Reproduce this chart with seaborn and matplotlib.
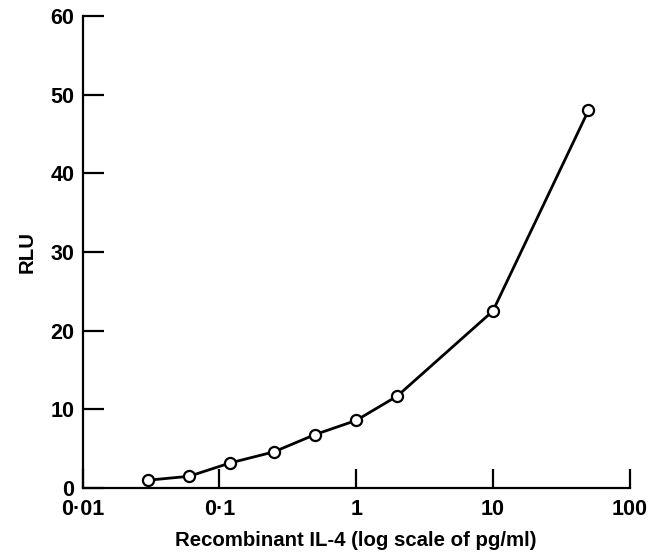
import matplotlib
matplotlib.use("Agg")
import matplotlib.pyplot as plt
import seaborn as sns
import pandas as pd
from matplotlib.ticker import FixedLocator, FixedFormatter, NullLocator

conc = [0.03, 0.06, 0.12, 0.25, 0.5, 1, 2, 10, 50]
rlu = [1.0, 1.5, 3.2, 4.6, 6.8, 8.6, 11.7, 22.5, 48.0]
xticks = [0.01, 0.1, 1, 10, 100]
xticklabels = ["0·01", "0·1", "1", "10", "100"]
yticks = [0, 10, 20, 30, 40, 50, 60]

sns.set_theme(style="ticks")
plt.rcParams['font.family'] = ['Liberation Sans', 'DejaVu Sans']
plt.rcParams['font.weight'] = 'bold'
plt.rcParams['text.color'] = 'black'
plt.rcParams['axes.labelcolor'] = 'black'

df = pd.DataFrame({"conc": conc, "rlu": rlu})
fig = plt.figure(figsize=(6.62, 5.54), dpi=100)
ax = fig.add_axes([0.125, 0.119, 0.826, 0.852])
sns.lineplot(data=df, x="conc", y="rlu", ax=ax, color="black", lw=2,
             marker="o", markersize=8, markerfacecolor="white",
             markeredgecolor="black", markeredgewidth=1.6)
ax.set_xscale("log")
ax.set_xlim(0.01, 100)
ax.set_ylim(0, 60)
ax.xaxis.set_major_locator(FixedLocator(xticks))
ax.xaxis.set_major_formatter(FixedFormatter(xticklabels))
ax.xaxis.set_minor_locator(NullLocator())
ax.set_yticks(yticks)
sns.despine(ax=ax)
for s in ("left", "bottom"):
    ax.spines[s].set_linewidth(1.6)
    ax.spines[s].set_color("black")
ax.tick_params(axis="y", direction="in", length=15, width=1.6, labelsize=15.5, pad=6, colors="black")
ax.tick_params(axis="x", direction="in", length=14, width=1.6, labelsize=15.5, pad=8, colors="black")
for lab in ax.get_xticklabels() + ax.get_yticklabels():
    lab.set_fontweight("bold")
ax.set_xlabel("Recombinant IL-4 (log scale of pg/ml)", fontsize=14.7, fontweight="bold", labelpad=8)
ax.set_ylabel("RLU", fontsize=14.7, fontweight="bold", labelpad=10)
fig.savefig("out.png", dpi=100)
